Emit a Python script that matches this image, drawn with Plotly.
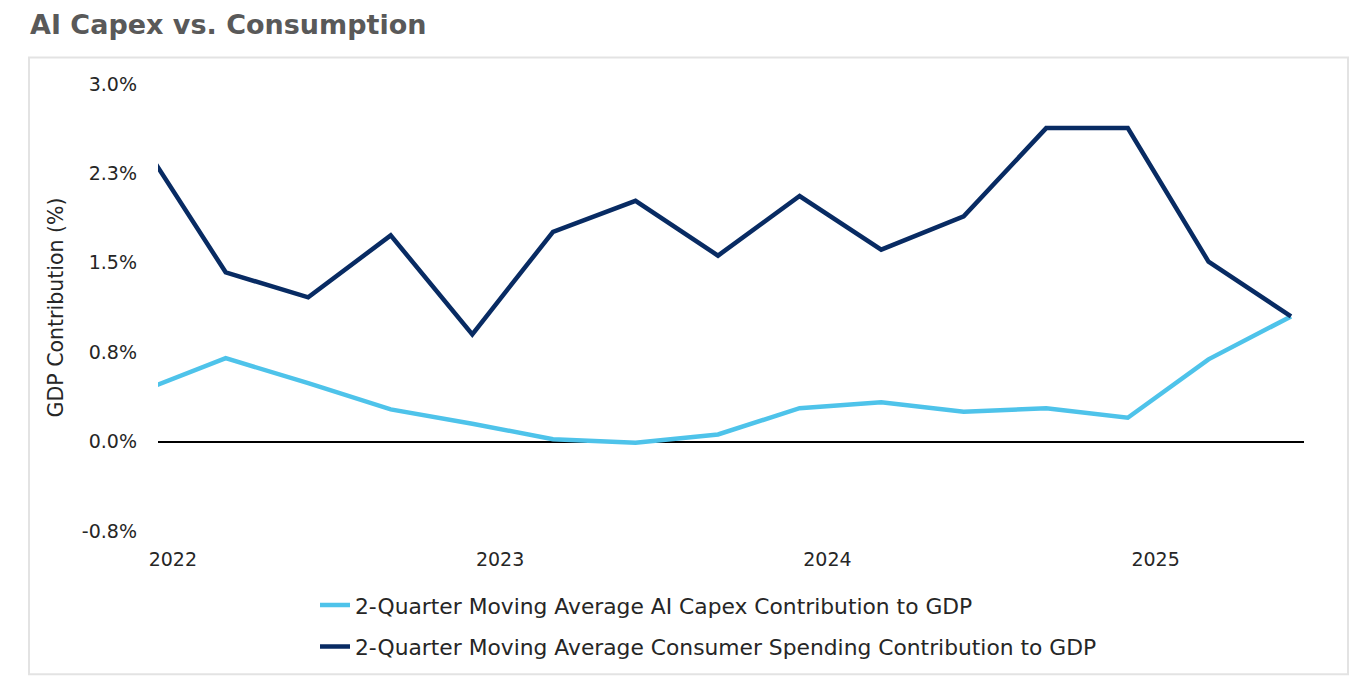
import plotly.graph_objects as go

# Quarterly observation dates (quarter-end months)
dates = ["2021-12-01", "2022-03-01", "2022-06-01", "2022-09-01", "2022-12-01",
         "2023-03-01", "2023-06-01", "2023-09-01", "2023-12-01",
         "2024-03-01", "2024-06-01", "2024-09-01", "2024-12-01",
         "2025-03-01", "2025-06-01"]

ai_capex = [0.435, 0.70, 0.49, 0.27, 0.15, 0.02, -0.01, 0.06, 0.28,
            0.33, 0.25, 0.28, 0.20, 0.69, 1.05]
consumer = [2.47, 1.42, 1.21, 1.73, 0.90, 1.76, 2.02, 1.56, 2.06,
            1.61, 1.89, 2.63, 2.63, 1.51, 1.05]

y_tickvals = [-0.75, 0.0, 0.75, 1.5, 2.25, 3.0]
y_ticktext = ["-0.8%", "0.0%", "0.8%", "1.5%", "2.3%", "3.0%"]

series_names = ["2-Quarter Moving Average AI Capex Contribution to GDP",
                "2-Quarter Moving Average Consumer Spending Contribution to GDP"]

FONT = "DejaVu Sans"
LIGHT = "#4ec3ea"
DARK = "#082b63"
TEXT = "#262626"

fig = go.Figure()
fig.add_trace(go.Scatter(x=dates, y=ai_capex, mode="lines", name=series_names[0],
                         legendgroup="a", line=dict(color=LIGHT, width=4.5)))
fig.add_trace(go.Scatter(x=dates, y=consumer, mode="lines", name=series_names[1],
                         legendgroup="b", line=dict(color=DARK, width=4.5)))

fig.update_layout(
    width=1358, height=684,
    margin=dict(l=158, r=54, t=83.5, b=152.5),
    paper_bgcolor="white", plot_bgcolor="white",
    font=dict(family=FONT, size=19, color=TEXT),
    title=dict(text="<b>AI Capex vs. Consumption</b>", x=30 / 1358, xanchor="left",
               xref="container", y=1 - 25 / 684, yanchor="middle", yref="container",
               font=dict(family=FONT, size=27, color="#595959")),
    showlegend=True,
    legend=dict(orientation="v", x=0.137, xanchor="left", y=-0.1195, yanchor="top",
                font=dict(family=FONT, size=21.8, color=TEXT),
                tracegroupgap=10, traceorder="grouped", bgcolor="rgba(0,0,0,0)"),
    xaxis=dict(type="date", range=["2021-12-15 12:00", "2025-06-15 12:00"],
               tick0="2022-01-01", dtick="M12", tickformat="%Y",
               showgrid=False, zeroline=False, showline=False, ticks="",
               ticklabelstandoff=15,
               tickfont=dict(size=19, color=TEXT)),
    yaxis=dict(range=[-0.75, 3.0], tickvals=y_tickvals, ticktext=y_ticktext,
               showgrid=False, zeroline=True, zerolinecolor="#000000", zerolinewidth=2,
               showline=False, ticks="", ticklabelstandoff=20,
               title=dict(text="GDP Contribution (%)", standoff=12,
                          font=dict(size=20.5, color=TEXT)),
               tickfont=dict(size=19, color=TEXT)),
    shapes=[dict(type="rect", xref="paper", yref="paper",
                 x0=(29 - 158) / 1146, x1=(1348 - 158) / 1146,
                 y0=(531.5 - 675) / 448, y1=(531.5 - 57) / 448,
                 line=dict(color="#e3e3e3", width=2), fillcolor="rgba(0,0,0,0)",
                 layer="below")],
)

fig.write_html("out.html")
